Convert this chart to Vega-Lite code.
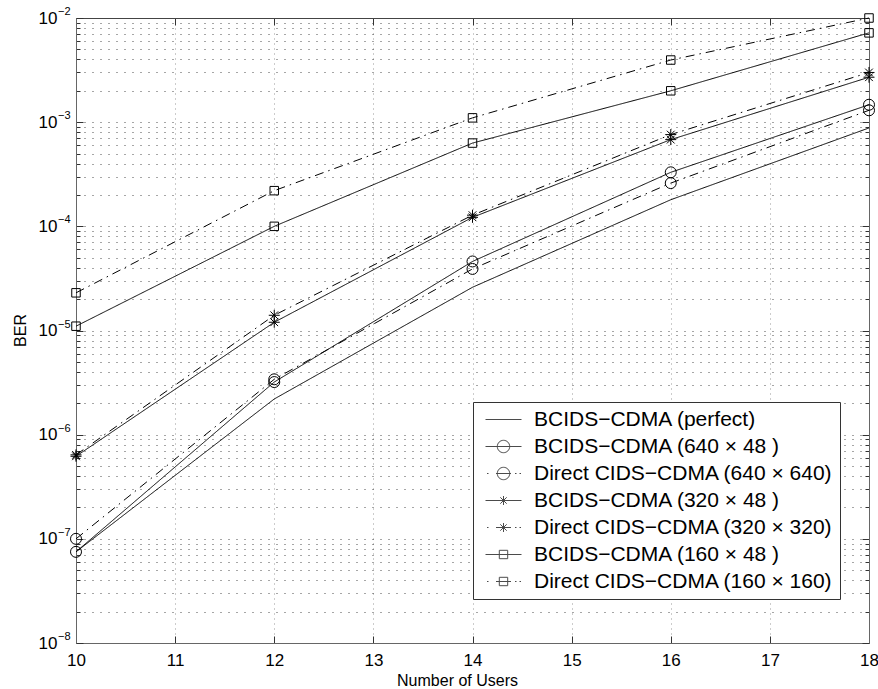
{
  "$schema": "https://vega.github.io/schema/vega-lite/v6.json",
  "autosize": {"type": "none"},
  "padding": {"left": 76, "top": 18, "right": 9, "bottom": 46},
  "width": 793,
  "height": 625,
  "background": "white",
  "config": {
    "view": {"stroke": null},
    "font": "Liberation Sans",
    "axis": {"labelFont": "Liberation Sans", "titleFont": "Liberation Sans", "labelColor": "black", "titleColor": "black", "tickColor": "#333", "domainColor": "#666"}
  },
  "datasets": {
    "ber": [
      {"series": "BCIDS−CDMA (perfect)", "users": 10, "ber": 7.5e-8},
      {"series": "BCIDS−CDMA (perfect)", "users": 12, "ber": 2.2e-6},
      {"series": "BCIDS−CDMA (perfect)", "users": 14, "ber": 2.6e-5},
      {"series": "BCIDS−CDMA (perfect)", "users": 16, "ber": 1.8e-4},
      {"series": "BCIDS−CDMA (perfect)", "users": 18, "ber": 8.8e-4},
      {"series": "BCIDS−CDMA (640 × 48 )", "users": 10, "ber": 7.5e-8},
      {"series": "BCIDS−CDMA (640 × 48 )", "users": 12, "ber": 3.2e-6},
      {"series": "BCIDS−CDMA (640 × 48 )", "users": 14, "ber": 4.6e-5},
      {"series": "BCIDS−CDMA (640 × 48 )", "users": 16, "ber": 3.3e-4},
      {"series": "BCIDS−CDMA (640 × 48 )", "users": 18, "ber": 1.47e-3},
      {"series": "Direct CIDS−CDMA (640 × 640)", "users": 10, "ber": 1.0e-7},
      {"series": "Direct CIDS−CDMA (640 × 640)", "users": 12, "ber": 3.4e-6},
      {"series": "Direct CIDS−CDMA (640 × 640)", "users": 14, "ber": 3.9e-5},
      {"series": "Direct CIDS−CDMA (640 × 640)", "users": 16, "ber": 2.6e-4},
      {"series": "Direct CIDS−CDMA (640 × 640)", "users": 18, "ber": 1.3e-3},
      {"series": "BCIDS−CDMA (320 × 48 )", "users": 10, "ber": 6.2e-7},
      {"series": "BCIDS−CDMA (320 × 48 )", "users": 12, "ber": 1.2e-5},
      {"series": "BCIDS−CDMA (320 × 48 )", "users": 14, "ber": 1.22e-4},
      {"series": "BCIDS−CDMA (320 × 48 )", "users": 16, "ber": 6.8e-4},
      {"series": "BCIDS−CDMA (320 × 48 )", "users": 18, "ber": 2.7e-3},
      {"series": "Direct CIDS−CDMA (320 × 320)", "users": 10, "ber": 6.4e-7},
      {"series": "Direct CIDS−CDMA (320 × 320)", "users": 12, "ber": 1.4e-5},
      {"series": "Direct CIDS−CDMA (320 × 320)", "users": 14, "ber": 1.28e-4},
      {"series": "Direct CIDS−CDMA (320 × 320)", "users": 16, "ber": 7.6e-4},
      {"series": "Direct CIDS−CDMA (320 × 320)", "users": 18, "ber": 3.0e-3},
      {"series": "BCIDS−CDMA (160 × 48 )", "users": 10, "ber": 1.1e-5},
      {"series": "BCIDS−CDMA (160 × 48 )", "users": 12, "ber": 1.0e-4},
      {"series": "BCIDS−CDMA (160 × 48 )", "users": 14, "ber": 6.3e-4},
      {"series": "BCIDS−CDMA (160 × 48 )", "users": 16, "ber": 2.0e-3},
      {"series": "BCIDS−CDMA (160 × 48 )", "users": 18, "ber": 7.2e-3},
      {"series": "Direct CIDS−CDMA (160 × 160)", "users": 10, "ber": 2.3e-5},
      {"series": "Direct CIDS−CDMA (160 × 160)", "users": 12, "ber": 2.2e-4},
      {"series": "Direct CIDS−CDMA (160 × 160)", "users": 14, "ber": 1.1e-3},
      {"series": "Direct CIDS−CDMA (160 × 160)", "users": 16, "ber": 3.95e-3},
      {"series": "Direct CIDS−CDMA (160 × 160)", "users": 18, "ber": 1.0e-2}
    ],
    "exps": [
      {"v": 1e-2, "e": "−2"},
      {"v": 1e-3, "e": "−3"},
      {"v": 1e-4, "e": "−4"},
      {"v": 1e-5, "e": "−5"},
      {"v": 1e-6, "e": "−6"},
      {"v": 1e-7, "e": "−7"},
      {"v": 1e-8, "e": "−8"}
    ]
  },
  "resolve": {"scale": {"shape": "independent"}, "axis": {"x": "independent", "y": "independent"}},
  "layer": [
    {
      "data": {"name": "ber"},
      "mark": {"type": "line", "color": "black", "strokeWidth": 1, "clip": false},
      "encoding": {
        "x": {
          "field": "users", "type": "quantitative",
          "scale": {"domain": [10, 18], "nice": false, "zero": false},
          "axis": {
            "orient": "bottom", "values": [10, 11, 12, 13, 14, 15, 16, 17, 18], "format": "d",
            "labelFlush": false, "labelFontSize": 17, "labelPadding": 16, "tickSize": -7,
            "grid": true, "gridDash": [1, 4], "gridColor": "#555", "gridOpacity": 0.6,
            "title": "Number of Users", "titleFontSize": 16, "titleFontWeight": "normal",
            "titleX": 381, "titleY": 42, "titleBaseline": "alphabetic", "titleAlign": "center"
          }
        },
        "y": {
          "field": "ber", "type": "quantitative",
          "scale": {"type": "log", "domain": [1e-8, 1e-2], "nice": false},
          "axis": {
            "orient": "left",
            "values": [1e-8, 2e-8, 3e-8, 4e-8, 5e-8, 6e-8, 7e-8, 8e-8, 9e-8, 1e-7, 2e-7, 3e-7, 4e-7, 5e-7, 6e-7, 7e-7, 8e-7, 9e-7, 1e-6, 2e-6, 3e-6, 4e-6, 5e-6, 6e-6, 7e-6, 8e-6, 9e-6, 1e-5, 2e-5, 3e-5, 4e-5, 5e-5, 6e-5, 7e-5, 8e-5, 9e-5, 1e-4, 2e-4, 3e-4, 4e-4, 5e-4, 6e-4, 7e-4, 8e-4, 9e-4, 1e-3, 2e-3, 3e-3, 4e-3, 5e-3, 6e-3, 7e-3, 8e-3, 9e-3, 1e-2],
            "labelExpr": "abs(log(datum.value)/LN10 - round(log(datum.value)/LN10)) < 0.001 ? '10' : ''",
            "labelOverlap": false, "labelFlush": false, "labelFontSize": 17, "labelPadding": 26,
            "tickSize": {"condition": {"test": "abs(log(datum.value)/LN10 - round(log(datum.value)/LN10)) < 0.001", "value": -7}, "value": -4},
            "grid": true, "gridDash": [1, 7], "gridColor": "#222", "gridOpacity": 0.8,
            "title": "BER", "titleFontSize": 16, "titleFontWeight": "normal",
            "titleX": -51, "titleY": 312, "titleBaseline": "alphabetic", "titleAlign": "center"
          }
        },
        "strokeDash": {
          "field": "series", "type": "nominal", "legend": null,
          "scale": {
            "domain": ["BCIDS−CDMA (perfect)", "BCIDS−CDMA (640 × 48 )", "Direct CIDS−CDMA (640 × 640)", "BCIDS−CDMA (320 × 48 )", "Direct CIDS−CDMA (320 × 320)", "BCIDS−CDMA (160 × 48 )", "Direct CIDS−CDMA (160 × 160)"],
            "range": [[1, 0], [1, 0], [9, 5, 1.5, 5], [1, 0], [9, 5, 1.5, 5], [1, 0], [9, 5, 1.5, 5]]
          }
        }
      }
    },
    {
      "data": {"name": "ber"},
      "transform": [{"filter": "datum.series !== 'BCIDS−CDMA (perfect)'"}],
      "mark": {"type": "point", "filled": false, "stroke": "black", "strokeWidth": 1, "size": 121, "opacity": 1, "clip": false},
      "encoding": {
        "x": {
          "field": "users", "type": "quantitative",
          "scale": {"domain": [10, 18], "nice": false, "zero": false},
          "axis": {"orient": "top", "values": [10, 11, 12, 13, 14, 15, 16, 17, 18], "labels": false, "tickSize": -7, "grid": false, "title": null, "domainColor": "#444"}
        },
        "y": {
          "field": "ber", "type": "quantitative",
          "scale": {"type": "log", "domain": [1e-8, 1e-2], "nice": false},
          "axis": {
            "orient": "right",
            "values": [1e-8, 2e-8, 3e-8, 4e-8, 5e-8, 6e-8, 7e-8, 8e-8, 9e-8, 1e-7, 2e-7, 3e-7, 4e-7, 5e-7, 6e-7, 7e-7, 8e-7, 9e-7, 1e-6, 2e-6, 3e-6, 4e-6, 5e-6, 6e-6, 7e-6, 8e-6, 9e-6, 1e-5, 2e-5, 3e-5, 4e-5, 5e-5, 6e-5, 7e-5, 8e-5, 9e-5, 1e-4, 2e-4, 3e-4, 4e-4, 5e-4, 6e-4, 7e-4, 8e-4, 9e-4, 1e-3, 2e-3, 3e-3, 4e-3, 5e-3, 6e-3, 7e-3, 8e-3, 9e-3, 1e-2],
            "labels": false, "grid": false, "title": null,
            "tickSize": {"condition": {"test": "abs(log(datum.value)/LN10 - round(log(datum.value)/LN10)) < 0.001", "value": -7}, "value": -4}
          }
        },
        "shape": {
          "field": "series", "type": "nominal", "legend": null,
          "scale": {
            "domain": ["BCIDS−CDMA (640 × 48 )", "Direct CIDS−CDMA (640 × 640)", "BCIDS−CDMA (320 × 48 )", "Direct CIDS−CDMA (320 × 320)", "BCIDS−CDMA (160 × 48 )", "Direct CIDS−CDMA (160 × 160)"],
            "range": [
              "M1,0A1,1,0,1,1,-1,0A1,1,0,1,1,1,0Z",
              "M1,0A1,1,0,1,1,-1,0A1,1,0,1,1,1,0Z",
              "M-1,0H1M0,-1V1M-0.7,-0.7L0.7,0.7M-0.7,0.7L0.7,-0.7",
              "M-1,0H1M0,-1V1M-0.7,-0.7L0.7,0.7M-0.7,0.7L0.7,-0.7",
              "M-0.77,-0.77H0.77V0.77H-0.77Z",
              "M-0.77,-0.77H0.77V0.77H-0.77Z"
            ]
          }
        }
      }
    },
    {
      "data": {"name": "ber"},
      "transform": [{"filter": "false"}],
      "mark": {"type": "point", "filled": false, "stroke": "black", "strokeWidth": 1},
      "encoding": {
        "shape": {
          "field": "series", "type": "nominal",
          "scale": {
            "domain": ["BCIDS−CDMA (perfect)", "BCIDS−CDMA (640 × 48 )", "Direct CIDS−CDMA (640 × 640)", "BCIDS−CDMA (320 × 48 )", "Direct CIDS−CDMA (320 × 320)", "BCIDS−CDMA (160 × 48 )", "Direct CIDS−CDMA (160 × 160)"],
            "range": [
              "M-1.8,0H1.8",
              "M-1.8,0H1.8M0.62,0A0.62,0.62,0,1,1,-0.62,0A0.62,0.62,0,1,1,0.62,0Z",
              "M-1.65,0H-1.5M-0.75,0H0.75M1.15,0H1.3M1.6,0H1.75M0.62,0A0.62,0.62,0,1,1,-0.62,0A0.62,0.62,0,1,1,0.62,0Z",
              "M-1.8,0H1.8M0,-0.45V0.45M-0.32,-0.32L0.32,0.32M-0.32,0.32L0.32,-0.32",
              "M-1.65,0H-1.5M-0.75,0H0.75M1.15,0H1.3M1.6,0H1.75M0,-0.45V0.45M-0.32,-0.32L0.32,0.32M-0.32,0.32L0.32,-0.32",
              "M-1.8,0H1.8M-0.42,-0.42H0.42V0.42H-0.42Z",
              "M-1.65,0H-1.5M-0.75,0H0.75M1.15,0H1.3M1.6,0H1.75M-0.42,-0.42H0.42V0.42H-0.42Z"
            ]
          },
          "legend": {
            "orient": "none", "legendX": 397, "legendY": 384, "title": null,
            "symbolSize": 400, "symbolStrokeWidth": 1, "symbolStrokeColor": "black",
            "labelFontSize": 21, "labelFont": "Liberation Sans", "labelColor": "black", "labelLimit": 0,
            "padding": 7, "rowPadding": 5, "symbolOffset": 13, "labelOffset": 20,
            "strokeColor": "#333", "fillColor": "white"
          }
        }
      }
    },
    {
      "data": {"name": "exps"},
      "mark": {"type": "text", "align": "left", "baseline": "middle", "dx": -18, "dy": -6, "fontSize": 11, "font": "Liberation Sans", "color": "black"},
      "encoding": {
        "x": {"datum": 10, "type": "quantitative", "scale": {"domain": [10, 18], "nice": false, "zero": false}, "axis": null},
        "y": {"field": "v", "type": "quantitative", "scale": {"type": "log", "domain": [1e-8, 1e-2], "nice": false}, "axis": null},
        "text": {"field": "e", "type": "nominal"}
      }
    }
  ]
}
